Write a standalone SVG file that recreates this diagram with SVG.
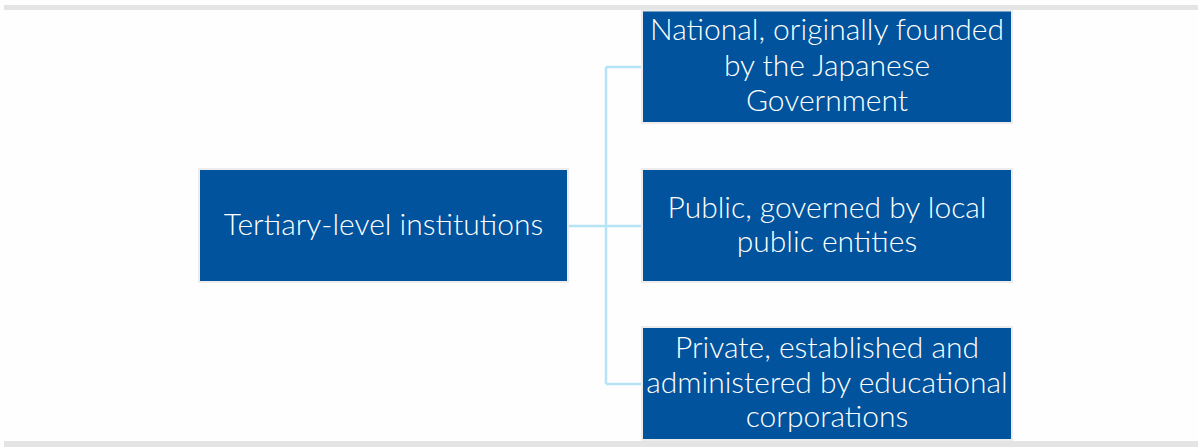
<svg xmlns="http://www.w3.org/2000/svg" width="1198" height="447" viewBox="0 0 1198 447">
<style>
.box{fill:#00539c;stroke:#ececec;stroke-width:2}
.t{font-family:Lato,"Liberation Sans",sans-serif;font-size:30px;font-weight:300;fill:#ffffff;text-anchor:middle}
.c{fill:none;stroke:#b4e4f5;stroke-width:2.5}
</style>
<rect x="0" y="0" width="1198" height="447" fill="#fefefe"/>
<rect x="4" y="5" width="1194" height="5" fill="#e4e4e4"/>
<rect x="4" y="441" width="1194" height="6" fill="#e4e4e4"/>
<g id="connectors">
<path class="c" d="M569 226 H641 M606 67 V384 M606 67 H641 M606 384 H641"/>
</g>
<g id="root">
<rect class="box" x="199" y="169" width="369" height="113"/>
<text class="t" x="383.5" y="235">Tertiary-level institutions</text>
</g>
<g id="national">
<rect class="box" x="642" y="10.5" width="370" height="112.5"/>
<text class="t" x="827" y="40">National, originally founded</text>
<text class="t" x="827" y="76">by the Japanese</text>
<text class="t" x="827" y="111">Government</text>
</g>
<g id="public">
<rect class="box" x="642" y="169" width="370" height="113"/>
<text class="t" x="827" y="218">Public, governed by local</text>
<text class="t" x="827" y="252">public entities</text>
</g>
<g id="private">
<rect class="box" x="642" y="327" width="370" height="113"/>
<text class="t" x="827" y="358">Private, established and</text>
<text class="t" x="827" y="393">administered by educational</text>
<text class="t" x="827" y="427">corporations</text>
</g>
</svg>
